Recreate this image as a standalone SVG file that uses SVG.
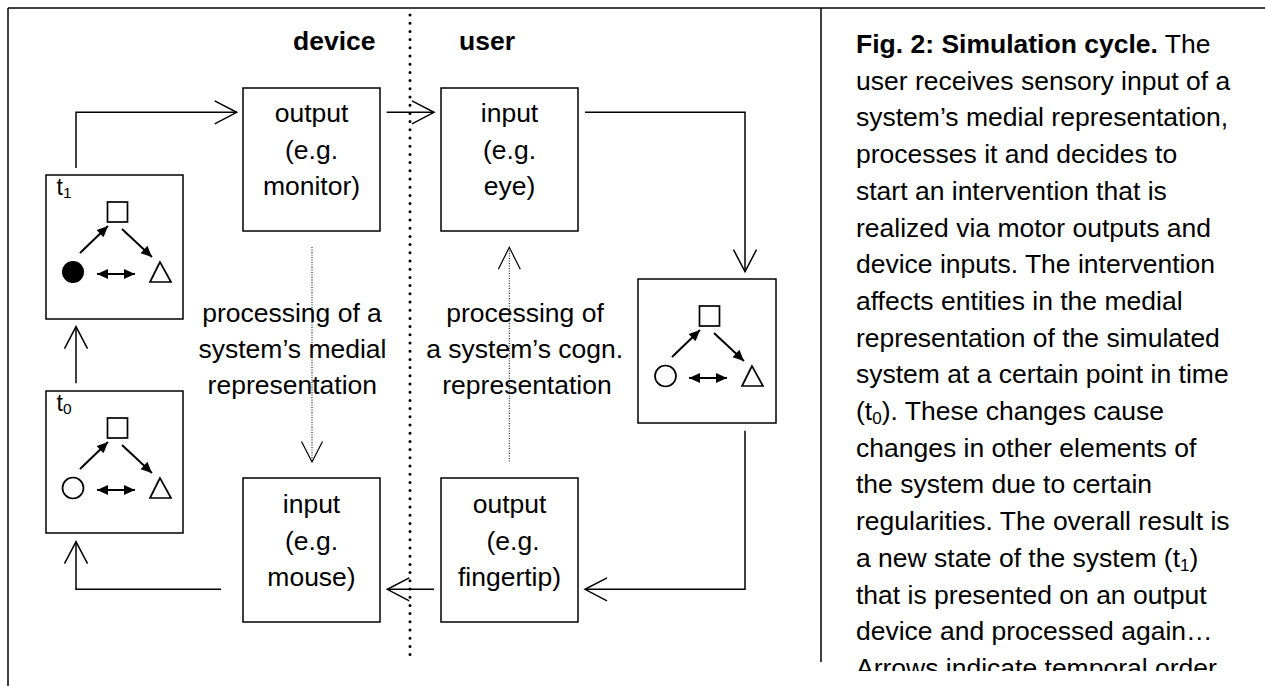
<svg xmlns="http://www.w3.org/2000/svg" width="1265" height="686" viewBox="0 0 1265 686">
<defs>
<style>
text{font-family:"Liberation Sans",Arial,sans-serif;fill:#000}
.lbl{font-size:26.5px;text-anchor:middle}
.bold{font-weight:bold}
.cap{font-size:26.5px}
.box{fill:#fff;stroke:#000;stroke-width:1.5}
.conn{fill:none;stroke:#000;stroke-width:1.5}
.dot{fill:none;stroke:#000;stroke-width:1;stroke-dasharray:1 1.5}
.sm{fill:none;stroke:#000;stroke-width:1.7}
.sa{fill:none;stroke:#000;stroke-width:2}
</style>
<marker id="open" markerUnits="userSpaceOnUse" markerWidth="26" markerHeight="26" refX="22" refY="12" orient="auto" overflow="visible">
<path d="M0,0.5 L22,12 L0,23.5" fill="none" stroke="#000" stroke-width="1.5"/>
</marker>
<marker id="sa" markerUnits="userSpaceOnUse" markerWidth="13" markerHeight="12" refX="11" refY="5" orient="auto-start-reverse" overflow="visible">
<path d="M0,0 L11,5 L0,10 z" fill="#000"/>
</marker>
<g id="net">
<rect x="61.5" y="27" width="20" height="20" class="sm"/>
<path d="M114,87 L104,107 L125,107 z" class="sm"/>
<line x1="34" y1="78" x2="62" y2="51" class="sa" marker-end="url(#sa)"/>
<line x1="76" y1="54" x2="106" y2="82" class="sa" marker-end="url(#sa)"/>
<line x1="51" y1="99" x2="89" y2="99" class="sa" marker-start="url(#sa)" marker-end="url(#sa)"/>
</g>
<clipPath id="capclip"><rect x="821" y="0" width="444" height="671"/></clipPath>
</defs>
<rect x="0" y="0" width="1265" height="686" fill="#fff"/>

<g id="frame">
<line x1="8" y1="8" x2="1265" y2="8" stroke="#000" stroke-width="1.5"/>
<line x1="8" y1="8" x2="8" y2="686" stroke="#000" stroke-width="1.5"/>
<line x1="821" y1="8" x2="821" y2="662" stroke="#000" stroke-width="1.5"/>
<line x1="410" y1="15" x2="410" y2="662" stroke="#000" stroke-width="3" stroke-linecap="round" stroke-dasharray="0 8.2"/>
<text x="293" y="50" class="bold" font-size="26.5">device</text>
<text x="459" y="50" class="bold" font-size="26.5">user</text>
</g>

<g id="connectors">
<polyline class="conn" points="76,168 76,112.3 236.7,112.3" marker-end="url(#open)"/>
<line class="conn" x1="386.7" y1="112.3" x2="434" y2="112.3" marker-end="url(#open)"/>
<polyline class="conn" points="585,112.3 745,112.3 745,271.7" marker-end="url(#open)"/>
<polyline class="conn" points="745,430.7 745,589.3 585,589.3" marker-end="url(#open)"/>
<line class="conn" x1="434" y1="589.3" x2="387.3" y2="589.3" marker-end="url(#open)"/>
<polyline class="conn" points="221,589.3 76,589.3 76,541.7" marker-end="url(#open)"/>
<line class="conn" x1="76" y1="383.3" x2="76" y2="326.7" marker-end="url(#open)"/>
<line class="dot" x1="312" y1="247" x2="312" y2="461"/>
<path d="M301.5,441.5 L312,462 L322.5,441.5" fill="none" stroke="#000" stroke-width="1.2"/>
<line class="dot" x1="509.3" y1="248" x2="509.3" y2="462"/>
<path d="M498.3,269.3 L509.3,247.3 L520.3,269.3" fill="none" stroke="#000" stroke-width="1.2"/>
</g>

<g id="label-medial">
<text class="lbl" x="292" y="321.7">processing of a</text>
<text class="lbl" x="292.5" y="358.3">system’s medial</text>
<text class="lbl" x="292.3" y="394">representation</text>
</g>
<g id="label-cogn">
<text class="lbl" x="525" y="321.7">processing of</text>
<text class="lbl" x="524.7" y="358.3">a system’s cogn.</text>
<text class="lbl" x="527" y="394">representation</text>
</g>

<g id="node-output-monitor">
<rect class="box" x="243" y="88" width="137" height="143"/>
<text class="lbl" x="311.5" y="122">output</text>
<text class="lbl" x="311.5" y="159">(e.g.</text>
<text class="lbl" x="311.5" y="195">monitor)</text>
</g>
<g id="node-input-eye">
<rect class="box" x="441" y="88" width="137" height="143"/>
<text class="lbl" x="509.5" y="122">input</text>
<text class="lbl" x="509.5" y="159">(e.g.</text>
<text class="lbl" x="509.5" y="195">eye)</text>
</g>
<g id="node-input-mouse">
<rect class="box" x="243" y="478" width="137" height="144"/>
<text class="lbl" x="311.5" y="513">input</text>
<text class="lbl" x="311.5" y="550">(e.g.</text>
<text class="lbl" x="311.5" y="586">mouse)</text>
</g>
<g id="node-output-fingertip">
<rect class="box" x="441" y="478" width="137" height="144"/>
<text class="lbl" x="509.5" y="513">output</text>
<text class="lbl" x="513" y="550">(e.g.</text>
<text class="lbl" x="509.5" y="586">fingertip)</text>
</g>

<g id="node-t1">
<rect class="box" x="46" y="175" width="137" height="144"/>
<text x="56.5" y="195" font-size="23">t<tspan font-size="15.5" dy="3">1</tspan></text>
<use href="#net" transform="translate(46,175)"/>
<circle cx="73" cy="272" r="11" fill="#000"/>
</g>
<g id="node-t0">
<rect class="box" x="46" y="391" width="137" height="142"/>
<text x="56.5" y="411" font-size="23">t<tspan font-size="15.5" dy="3">0</tspan></text>
<use href="#net" transform="translate(46,391)"/>
<circle cx="73" cy="488" r="10.5" class="sm"/>
</g>
<g id="node-cogn">
<rect class="box" x="638" y="279" width="138" height="144"/>
<use href="#net" transform="translate(638,279)"/>
<circle cx="665.5" cy="376" r="10.5" class="sm"/>
</g>

<g id="caption" clip-path="url(#capclip)" class="cap">
<text x="856" y="53"><tspan class="bold">Fig. 2: Simulation cycle.</tspan> The</text>
<text x="856" y="89.7">user receives sensory input of a</text>
<text x="856" y="126.4">system’s medial representation,</text>
<text x="856" y="163.1">processes it and decides to</text>
<text x="856" y="199.8">start an intervention that is</text>
<text x="856" y="236.5">realized via motor outputs and</text>
<text x="856" y="273.2">device inputs. The intervention</text>
<text x="856" y="309.9">affects entities in the medial</text>
<text x="856" y="346.6">representation of the simulated</text>
<text x="856" y="383.3">system at a certain point in time</text>
<text x="856" y="420">(t<tspan font-size="17" dy="4">0</tspan><tspan dy="-4">). These changes cause</tspan></text>
<text x="856" y="456.7">changes in other elements of</text>
<text x="856" y="493.4">the system due to certain</text>
<text x="856" y="530.1">regularities. The overall result is</text>
<text x="856" y="566.8">a new state of the system (t<tspan font-size="17" dy="4">1</tspan><tspan dy="-4">)</tspan></text>
<text x="856" y="603.5">that is presented on an output</text>
<text x="856" y="640.2">device and processed again…</text>
<text x="856" y="676.9">Arrows indicate temporal order</text>
</g>
</svg>
